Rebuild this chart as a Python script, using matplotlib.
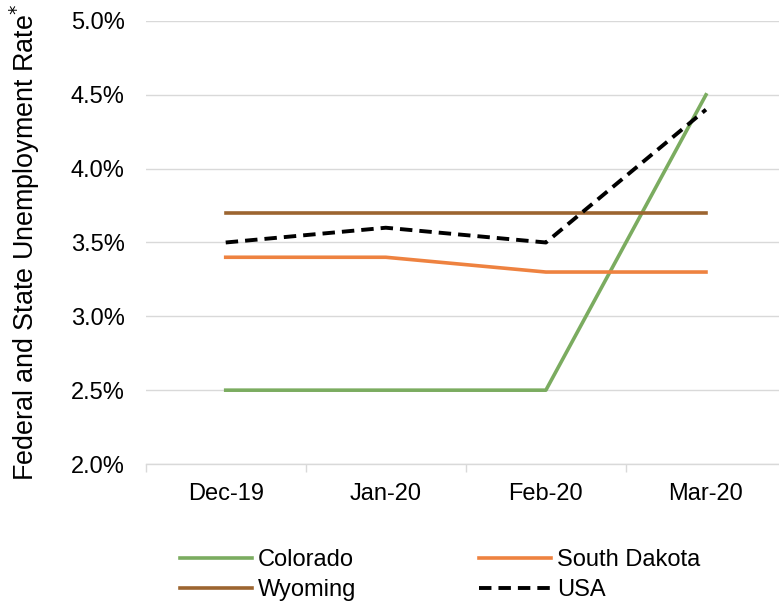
import matplotlib.pyplot as plt
from matplotlib.ticker import FuncFormatter, FixedLocator

plt.rcParams['font.family'] = ['Liberation Sans', 'DejaVu Sans']

## Data
months = ["Dec-19", "Jan-20", "Feb-20", "Mar-20"]
colorado = [2.5, 2.5, 2.5, 4.5]
south_dakota = [3.4, 3.4, 3.3, 3.3]
wyoming = [3.7, 3.7, 3.7, 3.7]
usa = [3.5, 3.6, 3.5, 4.4]

fig = plt.figure(figsize=(7.79, 6.03), dpi=100)
ax = fig.add_axes([0.187, 0.2305, 0.822, 0.7347])

x = list(range(len(months)))
l_co, = ax.plot(x, colorado, color="#7BAC60", lw=2.6, label="Colorado")
l_sd, = ax.plot(x, south_dakota, color="#EE8240", lw=2.6, label="South Dakota")
l_wy, = ax.plot(x, wyoming, color="#9C6530", lw=2.6, label="Wyoming")
l_us, = ax.plot(x, usa, color="black", lw=2.8, ls=(0, (3.2, 1.8)), label="USA")

ax.set_xlim(-0.5, 3.5)
ax.set_ylim(2.0, 5.0)
ax.set_yticks([2.0, 2.5, 3.0, 3.5, 4.0, 4.5, 5.0])
ax.yaxis.set_major_formatter(FuncFormatter(lambda v, p: f"{v:.1f}%"))
ax.set_xticks(x)
ax.set_xticklabels(months)
ax.xaxis.set_minor_locator(FixedLocator([-0.5, 0.5, 1.5, 2.5, 3.5]))

ax.grid(axis='y', color="#D9D9D9", lw=1)
ax.set_axisbelow(True)
for s in ["top", "right", "left"]:
    ax.spines[s].set_visible(False)
ax.spines["bottom"].set_color("#D9D9D9")
ax.spines["bottom"].set_linewidth(1)

ax.tick_params(axis='y', length=0, labelsize=17, pad=15)
ax.tick_params(axis='x', which='major', length=0, labelsize=17, pad=14)
ax.tick_params(axis='x', which='minor', length=6, color="#D9D9D9", width=1)

ax.set_ylabel("Federal and State Unemployment Rate$^{*}$", fontsize=19.4, labelpad=21)

# column-major order so rows read Colorado / South Dakota, Wyoming / USA
fig.legend([l_co, l_wy, l_sd, l_us], ["Colorado", "Wyoming", "South Dakota", "USA"],
           loc="lower left", bbox_to_anchor=(0.204, -0.032), ncol=2, frameon=False,
           fontsize=17, handlelength=3.05, handletextpad=0.25, columnspacing=5.2,
           labelspacing=0.35)

fig.savefig("out.png", dpi=100)
